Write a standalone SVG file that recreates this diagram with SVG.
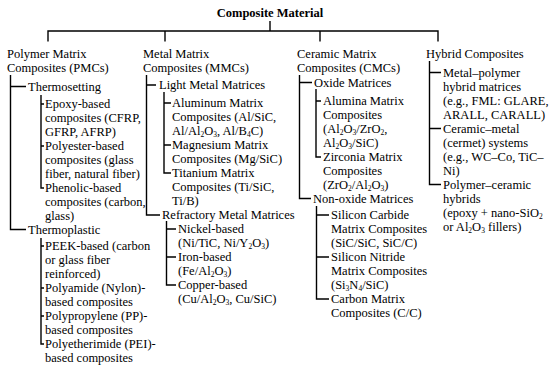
<svg xmlns="http://www.w3.org/2000/svg" width="550" height="367" viewBox="0 0 550 367" font-family="'Liberation Serif', 'Times New Roman', Times, serif">
<style>
text { font-family: 'Liberation Serif', 'Times New Roman', Times, serif; font-size: 12.5px; fill: #000; }
.title { font-weight: bold; }
.s { baseline-shift: -1.5px; font-size: 7.5px; }
#connectors path { stroke: #000; stroke-width: 1.4; fill: none; }
</style>
<rect width="550" height="367" fill="#fff"/>
<g id="connectors">
  <path d="M270 21 V31 M48 41.5 V31 H438 V41.5 M165 31 V41.5 M320 31 V41.5"/>
  <path d="M10.5 75 V229.5 H26 M10.5 86.5 H26"/>
  <path d="M41 95 V188 H44 M41 104 H44 M41 146 H44"/>
  <path d="M41 238 V344 H44 M41 246 H44 M41 288 H44 M41 316 H44"/>
  <path d="M146.5 75 V215 H160 M146.5 85 H156"/>
  <path d="M164 92 V173 H171 M164 103 H171 M164 145 H171"/>
  <path d="M166.5 221 V285 H176 M166.5 229 H176 M166.5 257 H176"/>
  <path d="M299.5 75 V198.5 H311 M299.5 82.5 H312"/>
  <path d="M316 89 V157 H321 M316 101 H321"/>
  <path d="M316.5 206 V299 H329 M316.5 215 H329 M316.5 257 H329"/>
  <path d="M429.5 61 V184.5 H441 M429.5 72.5 H441 M429.5 128.5 H441"/>
</g>
<g id="root"><text class="title" x="270" y="17" text-anchor="middle">Composite Material</text></g>

<g id="pmc"><text x="7" y="57.5"><tspan x="7">Polymer Matrix</tspan><tspan x="7" dy="14">Composites (PMCs)</tspan></text></g>
<g id="thermosetting"><text x="28" y="90.5">Thermosetting</text></g>
<g id="epoxy"><text x="45" y="108"><tspan x="45">Epoxy-based</tspan><tspan x="45" dy="14">composites (CFRP,</tspan><tspan x="45" dy="14">GFRP, AFRP)</tspan></text></g>
<g id="polyester"><text x="45" y="150"><tspan x="45">Polyester-based</tspan><tspan x="45" dy="14">composites (glass</tspan><tspan x="45" dy="14">fiber, natural fiber)</tspan></text></g>
<g id="phenolic"><text x="45" y="192"><tspan x="45">Phenolic-based</tspan><tspan x="45" dy="14">composites (carbon,</tspan><tspan x="45" dy="14">glass)</tspan></text></g>
<g id="thermoplastic"><text x="28" y="233.5">Thermoplastic</text></g>
<g id="peek"><text x="45" y="250"><tspan x="45">PEEK-based (carbon</tspan><tspan x="45" dy="14">or glass fiber</tspan><tspan x="45" dy="14">reinforced)</tspan></text></g>
<g id="polyamide"><text x="45" y="292"><tspan x="45">Polyamide (Nylon)-</tspan><tspan x="45" dy="14">based composites</tspan></text></g>
<g id="polypropylene"><text x="45" y="320"><tspan x="45">Polypropylene (PP)-</tspan><tspan x="45" dy="14">based composites</tspan></text></g>
<g id="polyetherimide"><text x="45" y="348"><tspan x="45">Polyetherimide (PEI)-</tspan><tspan x="45" dy="14">based composites</tspan></text></g>

<g id="mmc"><text x="143" y="57.5"><tspan x="143">Metal Matrix</tspan><tspan x="143" dy="14">Composites (MMCs)</tspan></text></g>
<g id="light-metal"><text x="159" y="89">Light Metal Matrices</text></g>
<g id="aluminum"><text x="172" y="107"><tspan x="172">Aluminum Matrix</tspan><tspan x="172" dy="14">Composites (Al/SiC,</tspan><tspan x="172" dy="14">Al/Al<tspan class="s">2</tspan>O<tspan class="s">3</tspan>, Al/B<tspan class="s">4</tspan>C)</tspan></text></g>
<g id="magnesium"><text x="172" y="149"><tspan x="172">Magnesium Matrix</tspan><tspan x="172" dy="14">Composites (Mg/SiC)</tspan></text></g>
<g id="titanium"><text x="172" y="177"><tspan x="172">Titanium Matrix</tspan><tspan x="172" dy="14">Composites (Ti/SiC,</tspan><tspan x="172" dy="14">Ti/B)</tspan></text></g>
<g id="refractory"><text x="162" y="219">Refractory Metal Matrices</text></g>
<g id="nickel"><text x="178" y="233"><tspan x="178">Nickel-based</tspan><tspan x="178" dy="14">(Ni/TiC, Ni/Y<tspan class="s">2</tspan>O<tspan class="s">3</tspan>)</tspan></text></g>
<g id="iron"><text x="178" y="261"><tspan x="178">Iron-based</tspan><tspan x="178" dy="14">(Fe/Al<tspan class="s">2</tspan>O<tspan class="s">3</tspan>)</tspan></text></g>
<g id="copper"><text x="178" y="289"><tspan x="178">Copper-based</tspan><tspan x="178" dy="14">(Cu/Al<tspan class="s">2</tspan>O<tspan class="s">3</tspan>, Cu/SiC)</tspan></text></g>

<g id="cmc"><text x="297" y="57.5"><tspan x="297">Ceramic Matrix</tspan><tspan x="297" dy="14">Composites (CMCs)</tspan></text></g>
<g id="oxide"><text x="314" y="86.5">Oxide Matrices</text></g>
<g id="alumina"><text x="323" y="105"><tspan x="323">Alumina Matrix</tspan><tspan x="323" dy="14">Composites</tspan><tspan x="323" dy="14">(Al<tspan class="s">2</tspan>O<tspan class="s">3</tspan>/ZrO<tspan class="s">2</tspan>,</tspan><tspan x="323" dy="14">Al<tspan class="s">2</tspan>O<tspan class="s">3</tspan>/SiC)</tspan></text></g>
<g id="zirconia"><text x="323" y="161"><tspan x="323">Zirconia Matrix</tspan><tspan x="323" dy="14">Composites</tspan><tspan x="323" dy="14">(ZrO<tspan class="s">2</tspan>/Al<tspan class="s">2</tspan>O<tspan class="s">3</tspan>)</tspan></text></g>
<g id="non-oxide"><text x="313" y="202.5">Non-oxide Matrices</text></g>
<g id="sic"><text x="331" y="219"><tspan x="331">Silicon Carbide</tspan><tspan x="331" dy="14">Matrix Composites</tspan><tspan x="331" dy="14">(SiC/SiC, SiC/C)</tspan></text></g>
<g id="sin"><text x="331" y="261"><tspan x="331">Silicon Nitride</tspan><tspan x="331" dy="14">Matrix Composites</tspan><tspan x="331" dy="14">(Si<tspan class="s">3</tspan>N<tspan class="s">4</tspan>/SiC)</tspan></text></g>
<g id="carbon"><text x="331" y="303"><tspan x="331">Carbon Matrix</tspan><tspan x="331" dy="14">Composites (C/C)</tspan></text></g>

<g id="hybrid"><text x="426" y="57.5">Hybrid Composites</text></g>
<g id="metal-polymer"><text x="443" y="76.5"><tspan x="443">Metal–polymer</tspan><tspan x="443" dy="14">hybrid matrices</tspan><tspan x="443" dy="14">(e.g., FML: GLARE,</tspan><tspan x="443" dy="14">ARALL, CARALL)</tspan></text></g>
<g id="ceramic-metal"><text x="443" y="132.5"><tspan x="443">Ceramic–metal</tspan><tspan x="443" dy="14">(cermet) systems</tspan><tspan x="443" dy="14">(e.g., WC–Co, TiC–</tspan><tspan x="443" dy="14">Ni)</tspan></text></g>
<g id="polymer-ceramic"><text x="443" y="188.5"><tspan x="443">Polymer–ceramic</tspan><tspan x="443" dy="14">hybrids</tspan><tspan x="443" dy="14">(epoxy + nano-SiO<tspan class="s">2</tspan></tspan><tspan x="443" dy="14">or Al<tspan class="s">2</tspan>O<tspan class="s">3</tspan> fillers)</tspan></text></g>
</svg>
